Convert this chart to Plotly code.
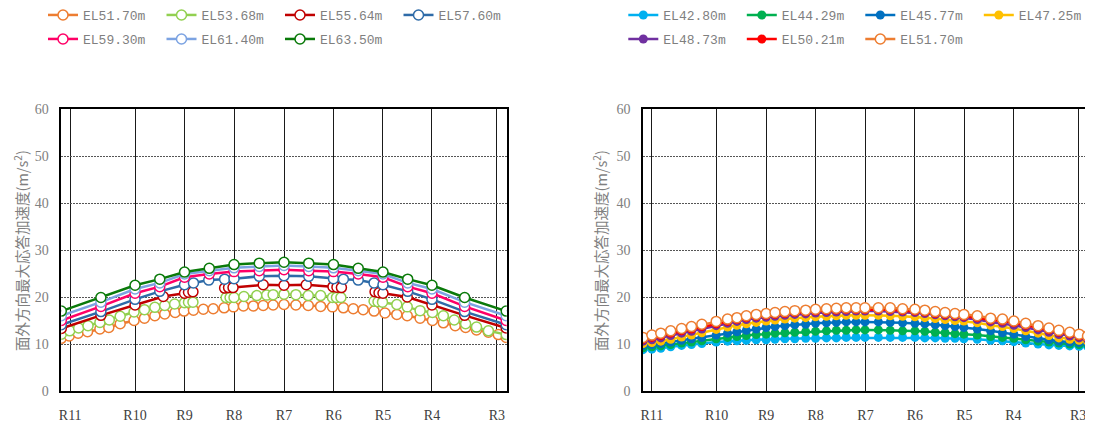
import plotly.graph_objects as go

# page body has an 8px margin: figure is sized/placed so the plot lands where the reference has it
OFF = 8
W, H = 1093 - OFF, 428 - OFF

# ---------------- axis categories ----------------
r_labels = ["R11", "R10", "R9", "R8", "R7", "R6", "R5", "R4", "R3"]
r_pos = [1.8, 14.9, 24.9, 34.9, 45.0, 55.0, 65.0, 74.9, 88.0]
y_ticks = [0, 10, 20, 30, 40, 50, 60]

# ---------------- left chart data ----------------
xL_main = [0, 8.0, 14.9, 19.9, 24.9, 29.9, 34.9, 40.0, 45.0, 50.0, 55.0, 60.0, 65.0, 70.0, 74.9, 81.5, 89.9]
y_6350 = [17.0, 19.9, 22.5, 23.8, 25.3, 26.1, 26.9, 27.2, 27.4, 27.2, 26.9, 26.1, 25.3, 23.8, 22.5, 19.9, 17.0]
y_6140 = [16.0, 18.9, 21.7, 23.0, 24.9, 25.6, 26.2, 26.5, 26.7, 26.5, 26.2, 25.6, 24.9, 23.0, 21.7, 18.9, 16.0]
y_5930 = [15.0, 18.0, 20.8, 22.2, 24.2, 24.9, 25.4, 25.6, 25.8, 25.6, 25.4, 24.9, 24.2, 22.2, 20.8, 18.0, 15.0]

x_5760 = [0, 8.0, 14.9, 19.9, 24.9, 26.7, 29.8, 33.0, 34.9, 40.0, 45.0, 50.0, 55.0, 57.0, 60.0, 63.2, 65.0, 70.0, 74.9, 81.5, 89.9]
y_5760 = [14.1, 16.9, 19.5, 21.2, 22.6, 23.0, 23.6, 23.8, 23.9, 24.4, 24.5, 24.4, 23.9, 23.8, 23.6, 23.0, 22.6, 21.2, 19.5, 16.9, 14.1]

x_5564 = [0, 8.0, 14.9, 20.6, 24.9, 25.7, 26.6, None,
          33.0, 33.8, 34.7, 40.8, 45.0, 49.5, 54.9, 55.7, 56.6, None,
          63.4, 64.2, 65.0, 69.9, 74.9, 81.5, 89.9]
y_5564 = [13.3, 16.1, 18.3, 20.1, 20.8, 21.0, 21.1, None,
          21.9, 22.0, 22.0, 22.6, 22.5, 22.6, 22.2, 22.1, 22.0, None,
          21.1, 20.9, 20.8, 20.0, 18.3, 16.1, 13.4]

x_5368 = [0, 1.7, 3.5, 5.4, 7.8, 9.7, 11.9, 14.7, 16.8, 18.9, 20.9, 22.9, 24.9, 25.7, 26.6, None,
          33.3, 34.1, 34.9, 36.9, 39.5, 41.5, 42.8, 45.0, 47.4, 49.9, 52.4, 54.8, 55.6, 56.5, None,
          63.2, 64.0, 64.9, 67.8, 69.9, 72.5, 75.0, 77.2, 79.4, 81.7, 83.9, 86.3, 89.9]
y_5368 = [12.1, 12.8, 13.4, 13.9, 14.6, 15.1, 15.9, 16.8, 17.3, 17.8, 18.2, 18.5, 18.8, 18.9, 18.9, None,
          19.9, 19.9, 19.9, 20.1, 20.3, 20.4, 20.5, 20.6, 20.5, 20.3, 20.3, 19.9, 19.9, 19.9, None,
          19.1, 19.0, 18.9, 18.4, 17.9, 17.1, 16.7, 16.0, 15.1, 14.3, 13.6, 12.8, 12.0]

x_5170L = [0, 1.6, 3.4, 5.3, 7.8, 9.6, 11.9, 14.7, 16.8, 18.9, 20.9, 23.0, 24.8, 26.7, 28.7, 30.7,
           32.9, 34.8, 36.8, 38.8, 40.8, 42.8, 45.0, 47.4, 49.9, 52.4, 54.8, 57.0, 59.0, 61.0,
           63.2, 65.4, 67.8, 69.9, 72.5, 75.0, 77.2, 79.6, 81.7, 83.9, 86.3, 88.3, 89.9]
y_5170L = [11.2, 11.7, 12.3, 12.6, 13.2, 13.5, 14.3, 15.0, 15.5, 16.0, 16.4, 16.7, 17.0, 17.2, 17.4, 17.5,
           17.7, 17.9, 18.1, 18.1, 18.2, 18.3, 18.4, 18.3, 18.2, 18.0, 17.9, 17.7, 17.5, 17.3,
           17.0, 16.6, 16.3, 16.0, 15.5, 15.0, 14.5, 13.9, 13.5, 13.0, 12.5, 12.0, 11.4]

# ---------------- right chart data ----------------
xR = [0, 1.8, 3.6, 5.6, 7.8, 9.8, 11.9, 14.8, 17.1, 19.0, 20.9, 22.9, 24.9, 26.7, 28.7, 30.7,
      32.9, 34.9, 37.1, 39.1, 41.1, 43.1, 44.9, 47.6, 50.0, 52.5, 55.0, 57.0, 59.1, 61.1,
      63.1, 64.9, 67.6, 70.3, 72.7, 75.0, 77.4, 79.9, 82.1, 84.1, 86.3, 88.2, 89.9]
y_4280 = [8.8, 8.9, 9.1, 9.4, 9.7, 9.9, 10.1, 10.4, 10.6, 10.7, 10.8, 10.9, 10.9, 11.0, 11.1, 11.1,
          11.2, 11.2, 11.3, 11.3, 11.4, 11.4, 11.4,
          11.4, 11.4, 11.4, 11.4, 11.3, 11.3, 11.2, 11.2, 11.1, 11.0, 10.8, 10.7, 10.5, 10.2, 10.0,
          9.8, 9.7, 9.6, 9.5, 9.5]
y_4429 = [9.2, 9.4, 9.6, 9.9, 10.2, 10.4, 10.7, 11.1, 11.4, 11.6, 11.8, 12.0, 12.1, 12.3, 12.4, 12.5,
          12.6, 12.7, 12.8, 12.9, 12.9, 13.0, 13.0,
          13.0, 12.9, 12.8, 12.8, 12.7, 12.5, 12.4, 12.2, 12.1, 11.9, 11.6, 11.4, 11.2, 10.9, 10.6,
          10.4, 10.2, 10.0, 9.9, 9.9]
y_4577 = [9.7, 9.9, 10.1, 10.4, 10.8, 11.1, 11.4, 11.9, 12.3, 12.6, 12.9, 13.2, 13.5, 13.7, 13.9, 14.1,
          14.2, 14.4, 14.5, 14.6, 14.7, 14.7, 14.7,
          14.7, 14.6, 14.5, 14.4, 14.3, 14.1, 13.9, 13.7, 13.5, 13.2, 12.8, 12.4, 12.1, 11.6, 11.2,
          10.9, 10.6, 10.4, 10.3, 10.2]
y_4725 = [10.1, 10.3, 10.6, 11.0, 11.5, 11.9, 12.4, 13.1, 13.6, 14.0, 14.3, 14.6, 14.9, 15.1, 15.3, 15.5,
          15.6, 15.8, 15.9, 16.0, 16.1, 16.1, 16.1,
          16.1, 16.0, 15.9, 15.8, 15.6, 15.4, 15.2, 15.0, 14.9, 14.5, 14.0, 13.7, 13.3, 12.8, 12.3,
          11.8, 11.3, 11.0, 10.8, 10.6]
y_4873 = [10.6, 10.9, 11.3, 11.8, 12.3, 12.7, 13.2, 13.9, 14.4, 14.8, 15.2, 15.5, 15.7, 15.9, 16.1, 16.3,
          16.4, 16.6, 16.7, 16.8, 16.9, 17.0, 17.0,
          17.0, 16.9, 16.8, 16.7, 16.5, 16.2, 16.0, 15.8, 15.6, 15.2, 14.7, 14.4, 14.0, 13.5, 13.0,
          12.5, 12.0, 11.7, 11.3, 11.0]
y_5021 = [11.0, 11.4, 11.8, 12.3, 12.8, 13.2, 13.7, 14.3, 14.8, 15.2, 15.6, 15.9, 16.1, 16.3, 16.5, 16.7,
          16.8, 17.0, 17.1, 17.2, 17.3, 17.3, 17.3,
          17.3, 17.3, 17.1, 17.0, 16.8, 16.5, 16.3, 16.1, 15.9, 15.6, 15.1, 14.9, 14.5, 14.0, 13.5,
          13.0, 12.5, 12.1, 11.7, 11.3]
y_5170R = [11.4, 11.9, 12.3, 12.8, 13.3, 13.7, 14.2, 14.8, 15.3, 15.6, 16.0, 16.3, 16.5, 16.7, 16.9, 17.1,
           17.2, 17.4, 17.5, 17.6, 17.7, 17.7, 17.7,
           17.7, 17.7, 17.5, 17.4, 17.2, 16.9, 16.7, 16.5, 16.3, 16.0, 15.5, 15.3, 14.9, 14.4, 13.9,
           13.4, 12.9, 12.5, 12.1, 11.7]

# ---------------- build figure ----------------
fig = go.Figure()

left_series = [
    ("EL51.70m", x_5170L, y_5170L, "#ED7D31", "legend"),
    ("EL53.68m", x_5368, y_5368, "#92D050", "legend"),
    ("EL55.64m", x_5564, y_5564, "#C00000", "legend"),
    ("EL57.60m", x_5760, y_5760, "#2E6BA8", "legend"),
    ("EL59.30m", xL_main, y_5930, "#FF0066", "legend2"),
    ("EL61.40m", xL_main, y_6140, "#7CA3E2", "legend2"),
    ("EL63.50m", xL_main, y_6350, "#0A7A0A", "legend2"),
]
for name, xs, ys, col, lg in left_series:
    fig.add_trace(go.Scatter(
        x=xs, y=ys, name=name, mode="lines+markers", xaxis="x", yaxis="y",
        line=dict(color=col, width=2.5),
        marker=dict(symbol="circle", size=10, color="white", line=dict(color=col, width=1.5)),
        legend=lg, connectgaps=False,
    ))

right_series = [
    ("EL42.80m", y_4280, "#00B0F0", "legend3", False),
    ("EL44.29m", y_4429, "#00B050", "legend3", False),
    ("EL45.77m", y_4577, "#0070C0", "legend3", False),
    ("EL47.25m", y_4725, "#FFC000", "legend3", False),
    ("EL48.73m", y_4873, "#7030A0", "legend4", False),
    ("EL50.21m", y_5021, "#FF0000", "legend4", False),
    ("EL51.70m", y_5170R, "#ED7D31", "legend4", True),
]
for name, ys, col, lg, hollow in right_series:
    fig.add_trace(go.Scatter(
        x=xR, y=ys, name=name, mode="lines+markers", xaxis="x2", yaxis="y2",
        line=dict(color=col, width=2.5),
        marker=dict(symbol="circle", size=10 if hollow else 9,
                    color="white" if hollow else col,
                    line=dict(color=col, width=1.5 if hollow else 0)),
        legend=lg,
    ))


def px_x(p):  # page x -> paper fraction
    return (p - OFF) / W


def px_y(p):  # page y -> paper fraction
    return 1 - (p - OFF) / H


domL = [px_x(61.3), px_x(506.7)]
domR = [px_x(643.0), px_x(1088.0)]
domY = [px_y(391), px_y(109)]

tick_font_y = dict(family="Liberation Serif", size=14, color="#808080")
tick_font_x = dict(family="Liberation Serif", size=14, color="#404040")


def xaxis_cfg(dom, anchor):
    return dict(domain=dom, anchor=anchor, range=[0, 90], tickmode="array",
                tickvals=r_pos, ticktext=r_labels, showgrid=True, gridcolor="#1a1a1a",
                gridwidth=1, showline=True, linecolor="#000000", linewidth=1.5, mirror=True,
                ticks="", tickfont=tick_font_x, zeroline=False, ticklabelstandoff=10,
                fixedrange=True)


def yaxis_cfg(anchor):
    return dict(domain=domY, anchor=anchor, range=[0, 60], tickmode="array",
                tickvals=y_ticks, showgrid=True, gridcolor="#555555", gridwidth=1,
                griddash="2px,1px", showline=True, linecolor="#000000", linewidth=1.5,
                mirror=True, ticks="", tickfont=tick_font_y, zeroline=False,
                ticklabelstandoff=8, fixedrange=True)


leg_font = dict(family="Liberation Mono", size=13, color="#7F7F7F")


def leg(x, y):
    return dict(orientation="h", x=x, y=y, xanchor="left", yanchor="middle",
                entrywidth=73.5, entrywidthmode="pixels", font=leg_font,
                bgcolor="rgba(0,0,0,0)", traceorder="normal", itemclick=False)


ytitle = "面外方向最大応答加速度(m/s<sup>2</sup>)"
title_font = dict(family="Noto Sans CJK JP", size=14.5, color="#7F7F7F")

fig.update_layout(
    width=W, height=H, margin=dict(l=0, r=0, t=0, b=0, autoexpand=False),
    paper_bgcolor="white", plot_bgcolor="white",
    xaxis=xaxis_cfg(domL, "y"), yaxis=yaxis_cfg("x"),
    xaxis2=xaxis_cfg(domR, "y2"), yaxis2=yaxis_cfg("x2"),
    legend=leg(px_x(43), px_y(15)),
    legend2=leg(px_x(43), px_y(39)),
    legend3=leg(px_x(623.3), px_y(15)),
    legend4=leg(px_x(623.3), px_y(39)),
    annotations=[
        dict(text=ytitle, xref="paper", yref="paper", x=px_x(21), y=px_y(251),
             textangle=-90, showarrow=False, font=title_font, xanchor="center", yanchor="middle"),
        dict(text=ytitle, xref="paper", yref="paper", x=px_x(600), y=px_y(251),
             textangle=-90, showarrow=False, font=title_font, xanchor="center", yanchor="middle"),
    ],
    showlegend=True,
)

fig.write_html("out.html")
